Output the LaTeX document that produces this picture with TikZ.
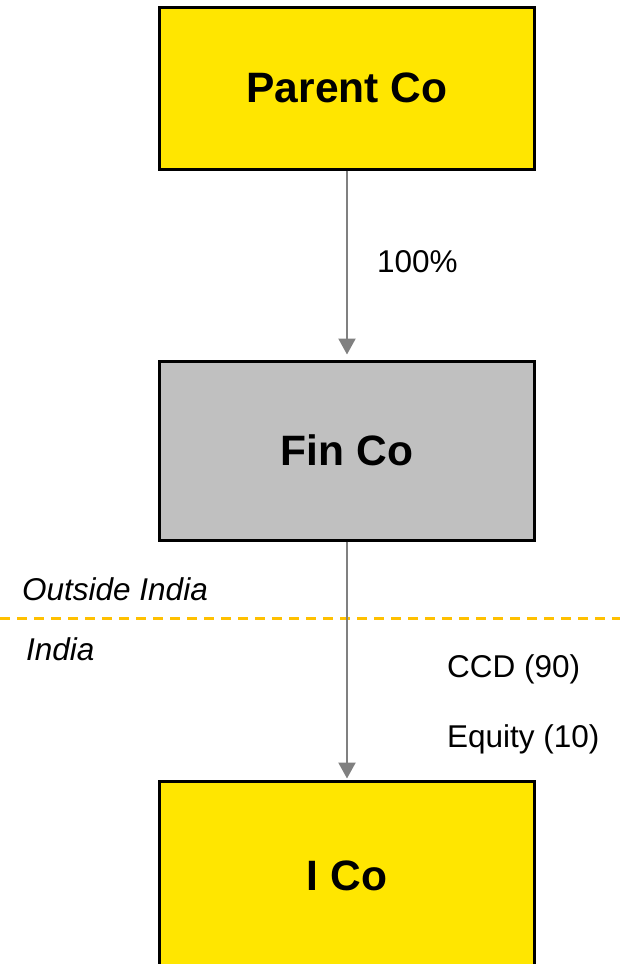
\documentclass[tikz,border=0pt]{standalone}
\usepackage{fontspec}
\setmainfont{Liberation Sans}
\usetikzlibrary{arrows.meta}
\definecolor{eyyellow}{HTML}{FFE600}
\definecolor{fingray}{HTML}{C0C0C0}
\definecolor{arrgray}{HTML}{808080}
\definecolor{dashorange}{HTML}{FFC000}
\tikzset{
  entity/.style={draw=black, line width=3pt, minimum width=375pt, inner sep=0pt,
    font=\fontsize{42.5}{50}\selectfont\bfseries},
  own/.style={draw=arrgray, line width=2.2pt, -{Triangle[width=17pt,length=16pt]}},
  lbl/.style={font=\fontsize{31.5}{38}\selectfont, inner sep=0pt, anchor=west},
  region/.style={font=\fontsize{31.5}{38}\selectfont\itshape, inner sep=0pt, anchor=west},
  border/.style={draw=dashorange, line width=3pt, dash pattern=on 10pt off 7pt}
}
\begin{document}
\begin{tikzpicture}[x=1pt,y=-1pt]
\useasboundingbox[fill=white] (0,0) rectangle (620,964);
\node[entity, fill=eyyellow, minimum height=162pt] (parent) at (347,88) {Parent Co};
\node[entity, fill=fingray, minimum height=179pt] (fin) at (347,450.5) {Fin Co};
\node[entity, fill=eyyellow, minimum height=189pt] (ico) at (347,875.5) {I Co};
\coordinate (dl) at (0,618);
\coordinate (dr) at (620,618);
\draw[border] (dl) -- (dr);
\draw[own, shorten >=5pt] (parent.south) -- (fin.north);
\draw[own, shorten >=1pt] (fin.south) -- (ico.north);
\node[lbl] (pct) at (377,262) {100\%};
\node[region] (outside) at (22,589) {Outside India};
\node[region] (india) at (26,649) {India};
\node[lbl] (ccd) at (447,669) {CCD (90)};
\node[lbl] (eq) at (447,739) {Equity (10)};
\end{tikzpicture}
\end{document}
